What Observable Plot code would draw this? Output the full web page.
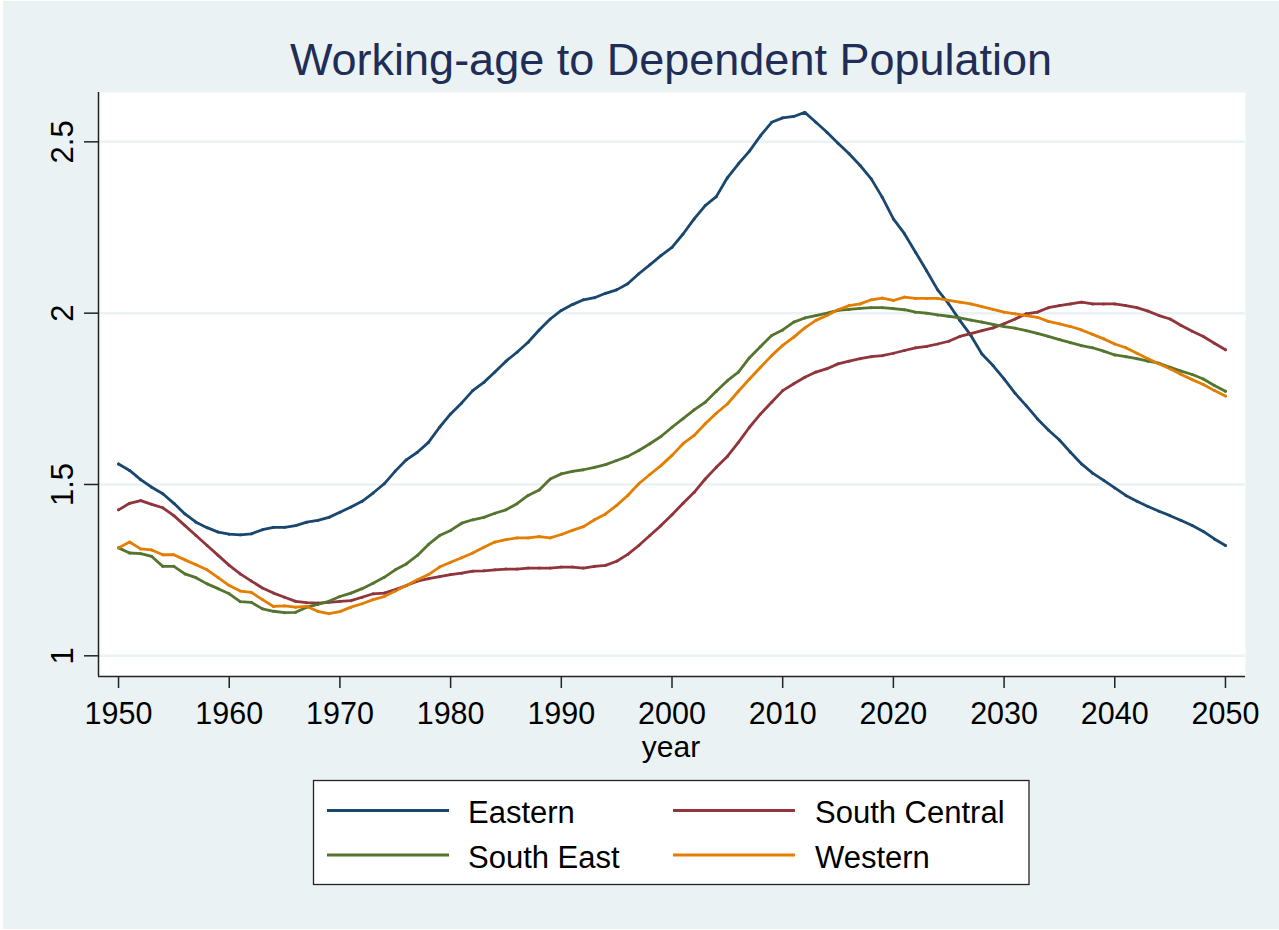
<!DOCTYPE html>
<html>
<head>
<meta charset="utf-8">
<script src="https://cdn.jsdelivr.net/npm/d3@7"></script>
<script src="https://cdn.jsdelivr.net/npm/@observablehq/plot@0.6"></script>
<style>
  body { margin: 0; background: #ffffff; font-family: "Liberation Sans", Arial, Helvetica, sans-serif; }
  #wrap { position: relative; width: 1279px; height: 930px; overflow: hidden; }
  #bg { position: absolute; left: 3px; top: 1px; width: 1276px; height: 928px; background: #EAF2F3; }
  #chart { position: absolute; left: 0; top: 0; }
  #overlay { position: absolute; left: 0; top: 0; }
</style>
</head>
<body>
<div id="wrap">
  <div id="bg"></div>
  <div id="chart"></div>
  <svg id="overlay" width="1279" height="930"></svg>
</div>
<script>
const titleText = "Working-age to Dependent Population";
const xLabel = "year";
const regions = ["Eastern", "South Central", "South East", "Western"];
const colors = ["#1A476F", "#90353B", "#55752F", "#E37E00"];
const xTicks = [1950, 1960, 1970, 1980, 1990, 2000, 2010, 2020, 2030, 2040, 2050];
const yTicks = [1, 1.5, 2, 2.5];
const years = d3.range(1950, 2051);

const eastern = [
  1.560, 1.541, 1.514, 1.492, 1.473, 1.445, 1.414, 1.390, 1.374, 1.361,
  1.355, 1.353, 1.356, 1.368, 1.375, 1.375, 1.380, 1.390, 1.395, 1.404,
  1.419, 1.434, 1.451, 1.475, 1.502, 1.539, 1.572, 1.594, 1.623, 1.667,
  1.706, 1.738, 1.774, 1.798, 1.828, 1.860, 1.886, 1.915, 1.951, 1.983,
  2.008, 2.025, 2.039, 2.045, 2.058, 2.068, 2.086, 2.115, 2.141, 2.168,
  2.192, 2.231, 2.275, 2.314, 2.340, 2.395, 2.436, 2.473, 2.518, 2.557,
  2.570, 2.574, 2.586, 2.557, 2.528, 2.496, 2.465, 2.431, 2.392, 2.338,
  2.275, 2.232, 2.178, 2.124, 2.068, 2.027, 1.979, 1.935, 1.881, 1.847,
  1.808, 1.766, 1.730, 1.692, 1.659, 1.630, 1.594, 1.560, 1.533, 1.512,
  1.490, 1.468, 1.451, 1.436, 1.422, 1.409, 1.395, 1.380, 1.363, 1.341,
  1.322
];
const southCentral = [
  1.426, 1.445, 1.453, 1.442, 1.432, 1.409, 1.380, 1.351, 1.322, 1.293,
  1.264, 1.239, 1.218, 1.198, 1.183, 1.171, 1.159, 1.155, 1.154, 1.156,
  1.159, 1.161, 1.171, 1.181, 1.183, 1.193, 1.205, 1.218, 1.225, 1.231,
  1.237, 1.241, 1.247, 1.248, 1.251, 1.253, 1.253, 1.256, 1.256, 1.256,
  1.259, 1.259, 1.256, 1.261, 1.264, 1.276, 1.296, 1.322, 1.351, 1.380,
  1.412, 1.445, 1.477, 1.516, 1.550, 1.582, 1.623, 1.667, 1.706, 1.740,
  1.774, 1.794, 1.813, 1.828, 1.838, 1.852, 1.860, 1.867, 1.873, 1.876,
  1.883, 1.891, 1.899, 1.903, 1.910, 1.918, 1.932, 1.940, 1.949, 1.957,
  1.969, 1.983, 1.998, 2.003, 2.016, 2.022, 2.027, 2.032, 2.027, 2.027,
  2.027, 2.022, 2.016, 2.006, 1.993, 1.983, 1.964, 1.947, 1.932, 1.912,
  1.893
];
const southEast = [
  1.315, 1.300, 1.298, 1.290, 1.261, 1.261, 1.239, 1.228, 1.210, 1.196,
  1.181, 1.158, 1.156, 1.137, 1.130, 1.126, 1.127, 1.142, 1.150, 1.159,
  1.173, 1.183, 1.196, 1.212, 1.229, 1.251, 1.268, 1.293, 1.325, 1.351,
  1.366, 1.387, 1.397, 1.404, 1.416, 1.426, 1.444, 1.468, 1.484, 1.516,
  1.531, 1.538, 1.543, 1.550, 1.558, 1.570, 1.582, 1.599, 1.619, 1.640,
  1.667, 1.692, 1.718, 1.740, 1.772, 1.803, 1.828, 1.870, 1.903, 1.935,
  1.951, 1.974, 1.986, 1.993, 2.000, 2.008, 2.011, 2.014, 2.016, 2.016,
  2.013, 2.010, 2.003, 2.000, 1.995, 1.991, 1.986, 1.980, 1.974, 1.967,
  1.961, 1.956, 1.949, 1.941, 1.932, 1.923, 1.914, 1.905, 1.899, 1.889,
  1.878, 1.873, 1.867, 1.860, 1.854, 1.842, 1.831, 1.821, 1.808, 1.789,
  1.772
];
const western = [
  1.315, 1.332, 1.312, 1.309, 1.295, 1.295, 1.280, 1.266, 1.251, 1.228,
  1.205, 1.189, 1.185, 1.164, 1.144, 1.146, 1.142, 1.144, 1.130, 1.123,
  1.129, 1.142, 1.152, 1.164, 1.173, 1.189, 1.205, 1.222, 1.237, 1.259,
  1.273, 1.286, 1.300, 1.317, 1.332, 1.339, 1.344, 1.344, 1.348, 1.344,
  1.354, 1.366, 1.377, 1.397, 1.414, 1.439, 1.468, 1.502, 1.529, 1.555,
  1.585, 1.619, 1.643, 1.677, 1.708, 1.735, 1.772, 1.808, 1.842, 1.876,
  1.906, 1.930, 1.957, 1.979, 1.993, 2.010, 2.022, 2.027, 2.039, 2.044,
  2.037, 2.047, 2.043, 2.043, 2.043, 2.037, 2.032, 2.027, 2.019, 2.011,
  2.003, 1.998, 1.993, 1.988, 1.976, 1.969, 1.961, 1.951, 1.938, 1.925,
  1.910, 1.899, 1.883, 1.867, 1.852, 1.838, 1.821, 1.806, 1.792, 1.774,
  1.758
];

const seriesValues = [eastern, southCentral, southEast, western];
const rows = [];
regions.forEach((r, i) => {
  years.forEach((y, j) => rows.push({ region: r, year: y, value: seriesValues[i][j] }));
});

const xDomain = [1948.19, 2051.81];
const yDomain = [0.9396, 2.644];
const axisColor = "#222222";
const font = "Liberation Sans, Arial, Helvetica, sans-serif";

const chart = Plot.plot({
  width: 1279,
  height: 770,
  marginTop: 92,
  marginLeft: 98,
  marginRight: 34,
  marginBottom: 94,
  style: { background: "transparent", fontFamily: font, overflow: "visible" },
  x: { domain: xDomain, label: null },
  y: { domain: yDomain, label: null },
  color: { domain: regions, range: colors },
  marks: [
    Plot.frame({ fill: "white", stroke: "none" }),
    Plot.gridY(yTicks, { stroke: "#EAF2F3", strokeOpacity: 1, strokeWidth: 2.5 }),
    Plot.line(rows, { x: "year", y: "value", z: "region", stroke: "region", strokeWidth: 2.8, strokeLinejoin: "round" }),
    Plot.dot(rows, { x: "year", y: "value", fill: "region", r: 1.5, stroke: null }),
    Plot.ruleX([xDomain[0]], { stroke: axisColor, strokeWidth: 1.5 }),
    Plot.ruleY([yDomain[0]], { stroke: axisColor, strokeWidth: 1.5 }),
    Plot.axisX({ ticks: xTicks, tickSize: 12, tickPadding: 14, fontSize: 30.5, tickFormat: d => String(d), stroke: axisColor, strokeWidth: 1.5, fill: "#000" }),
    Plot.axisY({ ticks: yTicks, tickSize: 14, tickFormat: () => "", stroke: axisColor, strokeWidth: 1.5 }),
    Plot.text(yTicks, { y: d => d, frameAnchor: "left", dx: -26, text: d => String(d), rotate: -90, textAnchor: "middle", lineAnchor: "bottom", fontSize: 31, fill: "#000" })
  ]
});
document.getElementById("chart").appendChild(chart);

const ov = d3.select("#overlay").style("font-family", font);
ov.append("text")
  .attr("x", 671).attr("y", 75)
  .attr("text-anchor", "middle")
  .attr("font-size", 45)
  .attr("fill", "#1F2D57")
  .text(titleText);
ov.append("text")
  .attr("x", 671).attr("y", 757)
  .attr("text-anchor", "middle")
  .attr("font-size", 30)
  .attr("fill", "#000")
  .text(xLabel);

// legend
const lg = ov.append("g");
lg.append("rect")
  .attr("x", 313.5).attr("y", 780.5).attr("width", 715.5).attr("height", 104)
  .attr("fill", "white").attr("stroke", axisColor).attr("stroke-width", 1.3);
const legendPos = [
  { sx: 327, tx: 468, y: 810.5, ty: 823 },
  { sx: 673, tx: 815, y: 810.5, ty: 823 },
  { sx: 327, tx: 468, y: 855, ty: 868 },
  { sx: 673, tx: 815, y: 855, ty: 868 }
];
regions.forEach((r, i) => {
  const p = legendPos[i];
  lg.append("line")
    .attr("x1", p.sx).attr("x2", p.sx + 122)
    .attr("y1", p.y).attr("y2", p.y)
    .attr("stroke", colors[i]).attr("stroke-width", 3);
  lg.append("text")
    .attr("x", p.tx).attr("y", p.ty)
    .attr("font-size", 31).attr("fill", "#000")
    .text(r);
});
</script>
</body>
</html>
